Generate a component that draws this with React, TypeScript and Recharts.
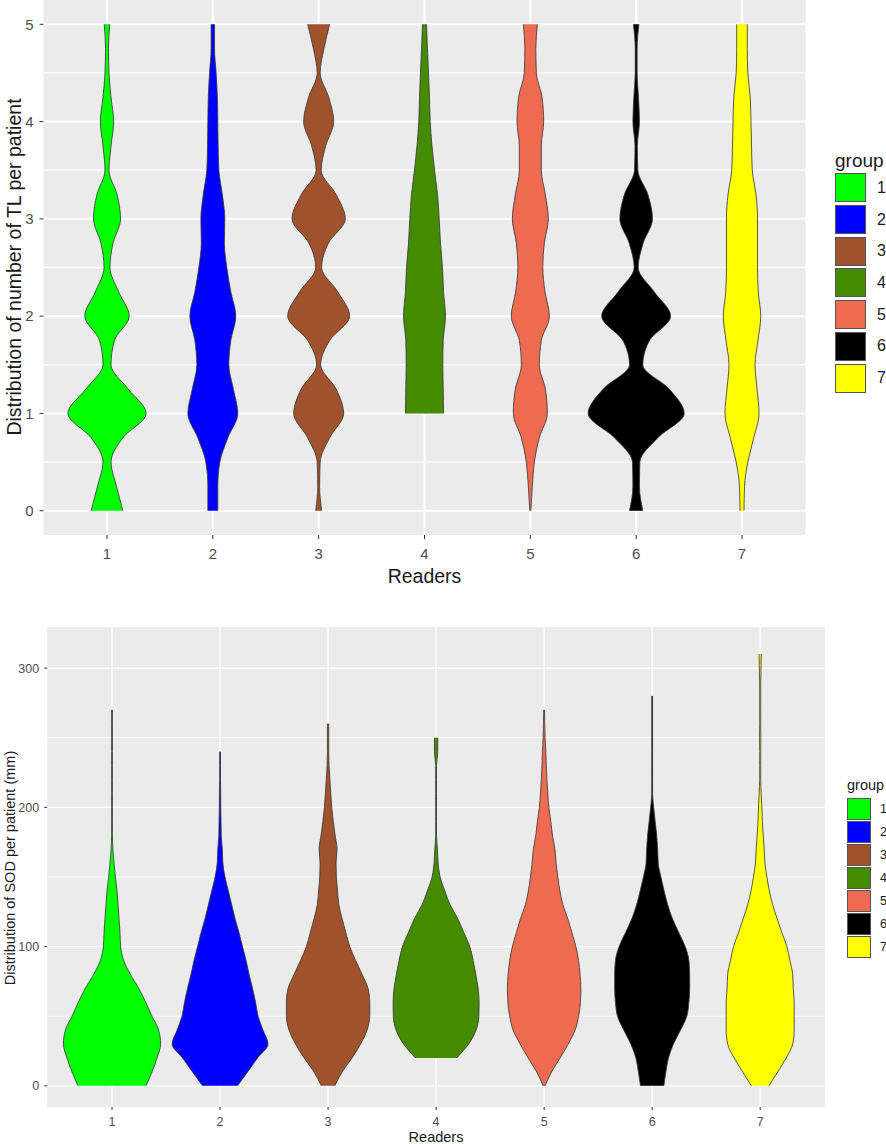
import { Area, CartesianGrid, ComposedChart, XAxis, YAxis } from "recharts";

const FONT = '"Liberation Sans", Arial, Helvetica, sans-serif';

const READERS = [1, 2, 3, 4, 5, 6, 7];
const GROUP_COLORS = ["#00FF00", "#0000FF", "#A0522D", "#458B00", "#EE6A50", "#000000", "#FFFF00"];

// Top panel: number of TL per patient. Sample heights, then violin half-widths
// per reader, in % of one reader slot (null = no density there).
const TL_Y = [0, 0.25, 0.5, 0.75, 1, 1.25, 1.5, 1.75, 2, 2.25, 2.5, 2.75, 3, 3.25, 3.5, 3.75, 4, 4.25, 4.5, 4.75, 5];
const TL_TICKS = [0, 1, 2, 3, 4, 5];
const TL_MINOR = [0.5, 1.5, 2.5, 3.5, 4.5];
const tl1 = [15, 9, 3.8, 15, 37, 20, 3.8, 7, 21, 11, 2.8, 5.7, 12.8, 9.5, 1.9, 3.8, 6.3, 3.8, 1.9, 1.4, 2.6];
const tl2 = [4.7, 4.7, 6.6, 14.2, 23.6, 19.4, 15.1, 17, 21.7, 17, 13.2, 10.9, 11.3, 9, 5.7, 5, 4.7, 4.3, 3.1, 1.6, 1.6];
const tl3 = [2.8, 0.9, 1.4, 10.4, 23.6, 16.5, 1.9, 10.4, 29.3, 18, 2.8, 9.2, 25.2, 16.5, 2.4, 6.6, 14.2, 9.5, 1.4, 5, 10.4];
const tl4 = [null, null, null, null, 18, 17.7, 17.3, 17.7, 19.8, 18, 17, 15.1, 13.9, 12.3, 9.5, 7.1, 5.4, 4.7, 3.8, 2.8, 1.9];
const tl5 = [0.5, 1.9, 3.8, 8.5, 16.1, 14.2, 8.5, 10.4, 18, 13.9, 11.8, 13.2, 17, 14.2, 10.4, 10.4, 12.6, 11.1, 5.7, 5.2, 6.6];
const tl6 = [6.3, 3.1, 3.5, 20.5, 45.4, 31.2, 6.3, 12.6, 32.6, 17, 1.9, 6.6, 15.4, 11.1, 1.6, 1.1, 3.1, 2.2, 0.9, 0.9, 2.6];
const tl7 = [1.9, 2.4, 5.5, 11.1, 16.1, 14.2, 12.3, 15.1, 17.7, 15.4, 14.7, 14.7, 14.7, 13.2, 9.7, 9, 8.5, 7.8, 5.5, 5, 5];

// Bottom panel: SOD per patient (mm)
const SOD_Y = [0, 10, 20, 30, 40, 50, 60, 70, 80, 90, 100, 110, 120, 130, 140, 150, 160, 170, 180, 190, 200, 210, 220, 230, 240, 250, 260, 270, 280, 290, 300, 310];
const SOD_TICKS = [0, 100, 200, 300];
const SOD_MINOR = [50, 150, 250];
const sod1 = [31.5, 37, 41.7, 45, 43.2, 37, 31.2, 24.7, 17, 10.8, 8, 7.4, 6.5, 5.6, 4.6, 3.1, 1.9, 0.8, 0.4, 0.4, 0.4, 0.4, 0.4, 0.4, 0.4, 0.4, 0.4, 0.4, null, null, null, null];
const sod2 = [16.2, 25.5, 34.7, 44.4, 39.8, 35.2, 32.9, 30.1, 26.9, 24.1, 20.8, 17.6, 13.9, 10.8, 7.7, 4.6, 2.6, 2.1, 1.1, 0.9, 0.7, 0.6, 0.4, 0.4, 0.4, null, null, null, null, null, null, null];
const sod3 = [6.2, 13, 22.2, 30.1, 36.1, 38.6, 38.6, 37, 31.5, 25.5, 20.1, 16.5, 13, 10, 8.8, 7.7, 7.4, 8.3, 6.5, 4.8, 3.4, 2.5, 1.7, 0.9, 0.6, 0.6, 0.6, null, null, null, null, null];
const sod4 = [null, null, 19, 30.1, 37, 39.6, 39.8, 38.9, 36.8, 34.3, 31.2, 25.7, 20.1, 13, 8.1, 3.7, 1.9, 1.2, 0.4, 0.4, 0.4, 0.4, 0.4, 0.4, 1.5, 1.5, null, null, null, null, null, null];
const sod5 = [0.9, 6.9, 14.8, 22.2, 28.7, 31.9, 33.6, 34, 33.3, 31.9, 29.4, 25.7, 21.9, 17.4, 14.6, 12.7, 11.1, 10, 7.7, 6.2, 4.4, 3.4, 2.6, 2, 1.6, 0.9, 0.6, 0.4, null, null, null, null];
const sod6 = [10.8, 12.7, 15.1, 19.7, 26.2, 32.1, 34, 34.7, 34.7, 34, 30.6, 24.7, 18.8, 14.4, 11.1, 8.1, 5.6, 5.1, 4.2, 2.8, 1.4, 0.4, 0.4, 0.4, 0.4, 0.4, 0.4, 0.4, 0.4, null, null, null];
const sod7 = [8.1, 16.2, 24.1, 30.1, 31.5, 31.5, 31.5, 30.6, 30.1, 27.5, 24.7, 20.1, 15.7, 11.6, 8.5, 6.2, 4.4, 3.7, 2.8, 2, 1.6, 0.9, 0.5, 0.5, 0.5, 0.6, 0.5, 0.5, 0.5, 0.5, 0.8, 1];

// one row per sample height, each reader gets its [left, right] edge
function toRows(ys: number[], widths: (number | null)[][]) {
  return ys.map((y, i) => {
    const row: Record<string, any> = { y };
    widths.forEach((w, g) => {
      const hw = w[i];
      row[`g${g + 1}`] = hw == null ? [null, null] : [READERS[g] - hw / 100, READERS[g] + hw / 100];
    });
    return row;
  });
}

const tlRows = toRows(TL_Y, [tl1, tl2, tl3, tl4, tl5, tl6, tl7]);
const sodRows = toRows(SOD_Y, [sod1, sod2, sod3, sod4, sod5, sod6, sod7]);

function ViolinPanel(props: any) {
  const { data, width, height, margin, yAxisWidth, xAxisHeight, yDomain, yTicks, yMinor, fontSize, tickSize, tickMargin, majorWidth, minorWidth } = props;
  const tick = { fill: "#4D4D4D", fontSize, fontFamily: FONT };
  return (
    <ComposedChart layout="vertical" width={width} height={height} data={data} margin={margin}>
      <CartesianGrid fill="#EBEBEB" fillOpacity={1} stroke="#FFFFFF" strokeWidth={majorWidth} horizontalValues={yTicks} verticalValues={READERS} />
      <CartesianGrid stroke="#FFFFFF" strokeWidth={minorWidth} horizontalValues={yMinor} vertical={false} />
      <XAxis
        type="number"
        domain={[0.4, 7.6]}
        ticks={READERS}
        allowDataOverflow
        height={xAxisHeight}
        axisLine={false}
        tickLine={{ stroke: "#333333" }}
        tickSize={tickSize}
        tickMargin={tickMargin.x}
        tick={tick}
      />
      <YAxis
        type="number"
        dataKey="y"
        domain={yDomain}
        ticks={yTicks}
        reversed
        allowDataOverflow
        width={yAxisWidth}
        axisLine={false}
        tickLine={{ stroke: "#333333" }}
        tickSize={tickSize}
        tickMargin={tickMargin.y}
        tick={tick}
      />
      {READERS.map((r, i) => (
        <Area
          key={r}
          dataKey={`g${r}`}
          type="monotone"
          fill={GROUP_COLORS[i]}
          fillOpacity={1}
          stroke="#333333"
          strokeWidth={0.8}
          dot={false}
          activeDot={false}
          isAnimationActive={false}
        />
      ))}
    </ComposedChart>
  );
}

function Text({ x, y, size, children, rotate = false, anchor = "center" }: any) {
  const tx = anchor === "left" ? "0" : "-50%";
  return (
    <div
      style={{
        position: "absolute",
        left: x,
        top: y,
        fontFamily: FONT,
        fontSize: size,
        color: "#1A1A1A",
        lineHeight: 1,
        whiteSpace: "nowrap",
        transform: `translate(${tx}, -50%)${rotate ? " rotate(-90deg)" : ""}`,
      }}
    >
      {children}
    </div>
  );
}

function GroupLegend({ x, y, keyW, keyH, step, titleSize, labelSize, labelX }: any) {
  return (
    <>
      <Text x={x} y={y - 13} size={titleSize} anchor="left">group</Text>
      {READERS.map((r, i) => (
        <div key={r}>
          <div
            style={{
              position: "absolute",
              left: x,
              top: y + i * step,
              width: keyW,
              height: keyH,
              boxSizing: "border-box",
              background: GROUP_COLORS[i],
              border: "1px solid #555555",
            }}
          />
          <Text x={labelX} y={y + i * step + keyH / 2} size={labelSize} anchor="left">{r}</Text>
        </div>
      ))}
    </>
  );
}

export default function App() {
  return (
    <div style={{ position: "absolute", left: 0, top: 0, width: 886, height: 1144, background: "#FFFFFF", overflow: "hidden" }}>
      <div style={{ position: "absolute", left: 0, top: 0 }}>
        <ViolinPanel
          data={tlRows}
          width={886}
          height={590}
          margin={{ top: 0, right: 80.5, bottom: 0, left: 0 }}
          yAxisWidth={43.5}
          xAxisHeight={55}
          yDomain={[-0.25, 5.25]}
          yTicks={TL_TICKS}
          yMinor={TL_MINOR}
          fontSize={15}
          tickSize={4}
          tickMargin={{ x: 9, y: 6 }}
          majorWidth={2}
          minorWidth={1.3}
        />
      </div>
      <div style={{ position: "absolute", left: 0, top: 590 }}>
        <ViolinPanel
          data={sodRows}
          width={886}
          height={554}
          margin={{ top: 37, right: 61, bottom: 0, left: 0 }}
          yAxisWidth={47.2}
          xAxisHeight={37}
          yDomain={[-15.2, 329.5]}
          yTicks={SOD_TICKS}
          yMinor={SOD_MINOR}
          fontSize={12.5}
          tickSize={3}
          tickMargin={{ x: 7, y: 5 }}
          majorWidth={1.3}
          minorWidth={0.8}
        />
      </div>

      <Text x={15} y={267} size={19.5} rotate>Distribution of number of TL per patient</Text>
      <Text x={424.5} y={577} size={19.5}>Readers</Text>
      <GroupLegend x={835} y={173.3} keyW={31} keyH={29} step={31.7} titleSize={19} labelSize={16} labelX={877} />

      <Text x={9.5} y={868} size={14.5} rotate>Distribution of SOD per patient (mm)</Text>
      <Text x={436} y={1137} size={14.5}>Readers</Text>
      <GroupLegend x={847} y={798} keyW={24} keyH={21.5} step={23} titleSize={14.5} labelSize={12.5} labelX={880} />
    </div>
  );
}
